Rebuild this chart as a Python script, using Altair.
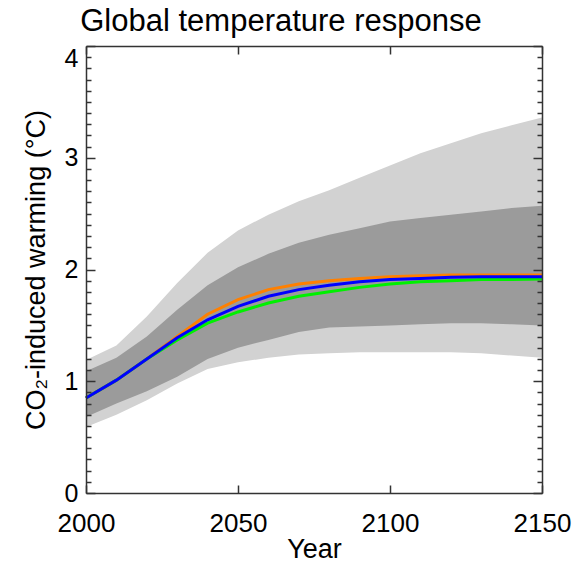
import altair as alt
import pandas as pd

# ---------------- data ----------------
title_text = ["Global temperature response"]

years = [2000, 2010, 2020, 2030, 2040, 2050, 2060, 2070, 2080, 2090,
         2100, 2110, 2120, 2130, 2140, 2150]

light_lo = [0.59, 0.70, 0.83, 0.98, 1.11, 1.17, 1.21, 1.24, 1.25, 1.26,
            1.26, 1.26, 1.26, 1.25, 1.23, 1.21]
light_hi = [1.19, 1.32, 1.58, 1.88, 2.15, 2.35, 2.49, 2.61, 2.71, 2.82,
            2.93, 3.04, 3.13, 3.22, 3.29, 3.36]
dark_lo = [0.68, 0.80, 0.91, 1.04, 1.20, 1.30, 1.37, 1.44, 1.48, 1.49,
           1.50, 1.51, 1.52, 1.52, 1.51, 1.50]
dark_hi = [1.09, 1.21, 1.40, 1.64, 1.86, 2.02, 2.14, 2.24, 2.31, 2.37,
           2.43, 2.46, 2.49, 2.52, 2.55, 2.57]

orange = [0.85, 1.01, 1.20, 1.40, 1.60, 1.73, 1.82, 1.87, 1.90, 1.92,
          1.935, 1.945, 1.95, 1.95, 1.95, 1.95]
green = [0.85, 1.01, 1.20, 1.37, 1.52, 1.62, 1.70, 1.76, 1.80, 1.84,
         1.87, 1.89, 1.90, 1.91, 1.91, 1.915]
blue = [0.85, 1.01, 1.20, 1.39, 1.55, 1.67, 1.76, 1.82, 1.86, 1.89,
        1.91, 1.92, 1.93, 1.935, 1.935, 1.935]

series_names = ["orange", "green", "blue"]
series_colors = ["#ff8000", "#00f000", "#0000ff"]

x_ticks = [2000, 2050, 2100, 2150]
y_major = [0, 1, 2, 3, 4]
y_minor = [0.1, 0.2, 0.3, 0.4, 0.5, 0.6, 0.7, 0.8, 0.9,
           1.1, 1.2, 1.3, 1.4, 1.5, 1.6, 1.7, 1.8, 1.9,
           2.1, 2.2, 2.3, 2.4, 2.5, 2.6, 2.7, 2.8, 2.9,
           3.1, 3.2, 3.3, 3.4, 3.5, 3.6, 3.7, 3.8, 3.9]

# ---------------- tables ----------------
bands = pd.DataFrame({"year": years, "llo": light_lo, "lhi": light_hi,
                      "dlo": dark_lo, "dhi": dark_hi})
rows = []
for name, vals in zip(series_names, [orange, green, blue]):
    for yr, v in zip(years, vals):
        rows.append({"year": yr, "value": v, "series": name})
lines = pd.DataFrame(rows)
titles = pd.DataFrame({"t": title_text})

W, H = 456, 447
FONT = "Liberation Sans"
AX = "#333333"

xs = alt.Scale(domain=[2000, 2150], nice=False, zero=False)
ys = alt.Scale(domain=[0, 4], nice=False, zero=False)

# main labelled axes
x_main = alt.Axis(title="Year", values=x_ticks, format="d", labelFontSize=26,
                  titleFontSize=27, titleFontWeight="normal", ticks=False,
                  domain=True, domainColor=AX, domainWidth=1.5, grid=False,
                  labelPadding=17, titlePadding=0, labelFlush=False,
                  labelOverlap=False, labelColor="black", titleColor="black",
                  labelFont=FONT, titleFont=FONT, zindex=1)
y_main = alt.Axis(title="CO₂-induced warming (°C)", values=y_major,
                  labelFontSize=25, titleFontSize=27, titleFontWeight="normal",
                  ticks=False, domain=True, domainColor=AX, domainWidth=1.5,
                  grid=False, labelPadding=8, titlePadding=14,
                  labelBaseline=alt.condition("datum.value == 4",
                                              alt.value("top"),
                                              alt.value("middle")),
                  labelColor="black", titleColor="black", labelFont=FONT,
                  titleFont=FONT, zindex=1)


def tick_axis(orient, values, size, offset, domain=False):
    return alt.Axis(orient=orient, values=values, labels=False, title=None,
                    ticks=True, tickSize=size, tickColor=AX, tickWidth=1.5,
                    domain=domain, domainColor=AX, domainWidth=1.5,
                    grid=False, offset=offset, zindex=1)


light = alt.Chart(bands).mark_area(color="#d2d2d2").encode(
    x=alt.X("year:Q", scale=xs, axis=x_main),
    y=alt.Y("llo:Q", scale=ys, axis=y_main),
    y2="lhi:Q",
)
dark = alt.Chart(bands).mark_area(color="#9b9b9b").encode(
    x=alt.X("year:Q", scale=xs,
            axis=tick_axis("top", x_ticks, 8, -H)),       # bottom edge, inward
    y=alt.Y("dlo:Q", scale=ys,
            axis=tick_axis("right", y_major, 9, -W)),     # left edge major
    y2="dhi:Q",
)
line_layer = alt.Chart(lines).mark_line(strokeWidth=3).encode(
    x=alt.X("year:Q", scale=xs,
            axis=tick_axis("bottom", x_ticks, 8, -H, True)),  # top edge
    y=alt.Y("value:Q", scale=ys,
            axis=tick_axis("right", y_minor, 5, -W)),     # left edge minor
    color=alt.Color("series:N", scale=alt.Scale(domain=series_names,
                                                range=series_colors),
                    legend=None),
    order=alt.Order("series_order:Q"),
).transform_calculate(
    series_order="indexof(['orange','green','blue'], datum.series)"
)
ghost1 = alt.Chart(lines).mark_point(opacity=0).encode(
    x=alt.X("year:Q", scale=xs, axis=None),
    y=alt.Y("value:Q", scale=ys,
            axis=tick_axis("left", y_major, 9, -W, True)),  # right edge major
)
ghost2 = alt.Chart(lines).mark_point(opacity=0).encode(
    x=alt.X("year:Q", scale=xs, axis=None),
    y=alt.Y("value:Q", scale=ys,
            axis=tick_axis("left", y_minor, 5, -W)),      # right edge minor
)
title_layer = alt.Chart(titles).mark_text(
    font=FONT, fontSize=31, color="black", align="center",
    baseline="alphabetic"
).encode(
    text="t:N",
    x=alt.value(W / 2 - 33),
    y=alt.value(-15),
)

chart = alt.layer(light, dark, line_layer, ghost1, ghost2,
                  title_layer).resolve_axis(
    x="independent", y="independent"
).properties(
    width=W, height=H,
    autosize=alt.AutoSizeParams(type="none"),
    padding={"left": 78, "top": 38, "right": 31, "bottom": 72},
).configure_view(stroke="transparent").configure(background="white")

chart.save("out.html", embed_options={"renderer": "svg", "actions": False})
